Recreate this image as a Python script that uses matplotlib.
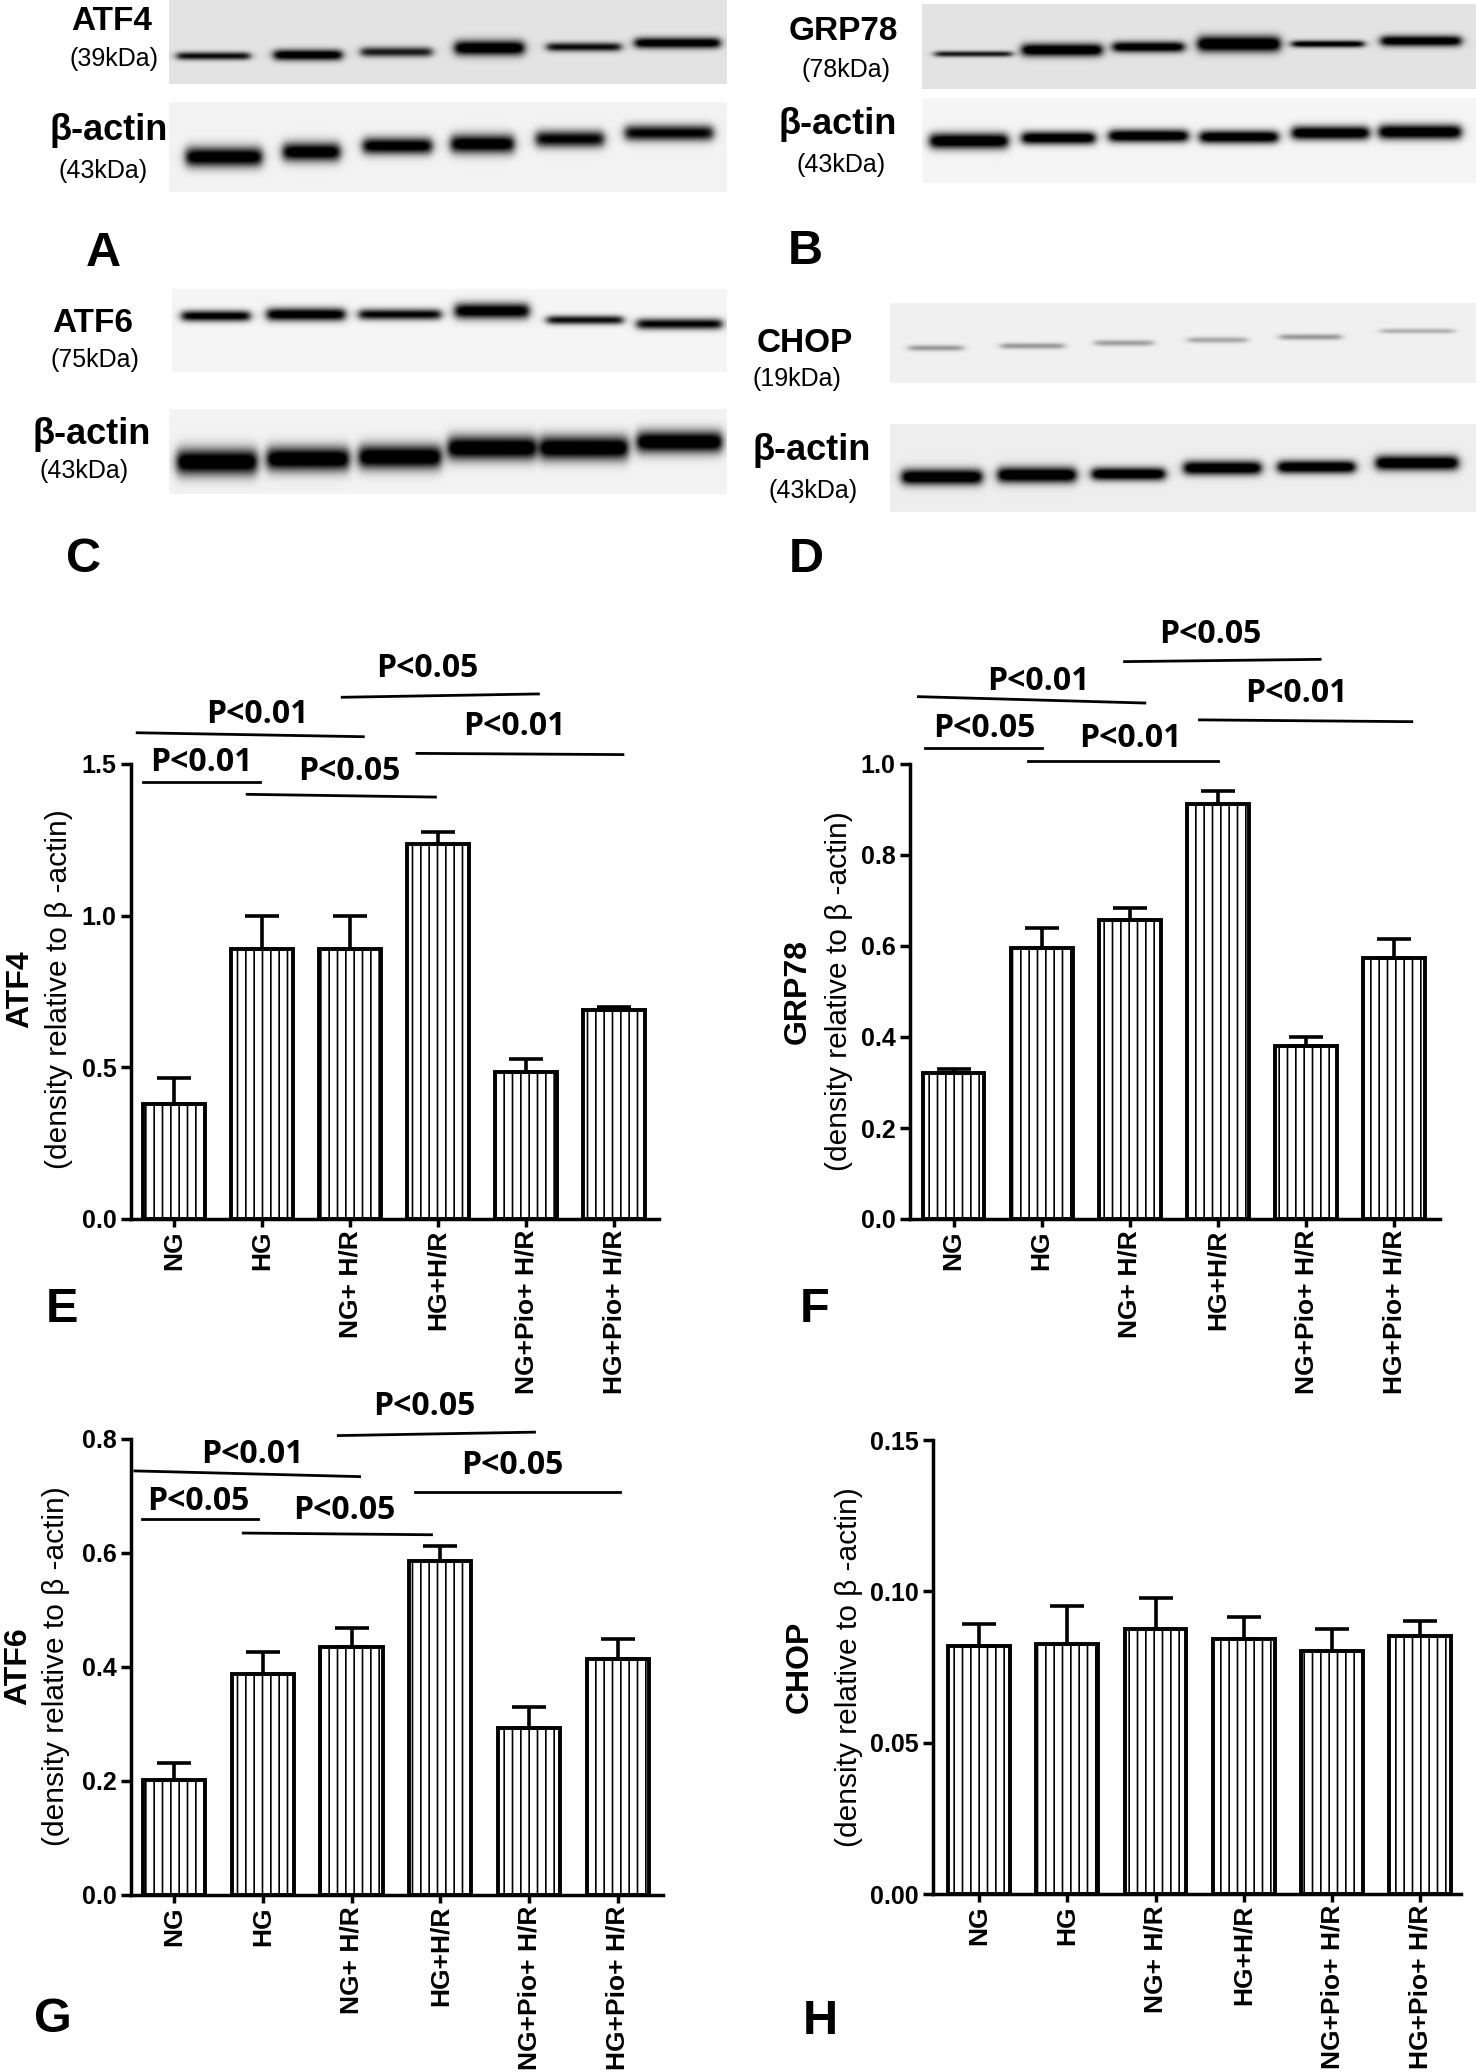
import numpy as np
import matplotlib
matplotlib.use("Agg")
import matplotlib.pyplot as plt
from matplotlib.ticker import FormatStrFormatter

plt.rcParams['font.family'] = ['Liberation Sans', 'DejaVu Sans']
plt.rcParams['hatch.linewidth'] = 1.2

# ---- quantification data ----
groups = ["NG", "HG", "NG+ H/R", "HG+H/R", "NG+Pio+ H/R", "HG+Pio+ H/R"]

atf4_mean = [0.38, 0.89, 0.89, 1.235, 0.485, 0.69]
atf4_err = [0.085, 0.11, 0.11, 0.04, 0.043, 0.008]

grp78_mean = [0.321, 0.595, 0.658, 0.913, 0.381, 0.574]
grp78_err = [0.009, 0.045, 0.025, 0.027, 0.019, 0.041]

atf6_mean = [0.2016, 0.388, 0.435, 0.586, 0.293, 0.414]
atf6_err = [0.030, 0.038, 0.033, 0.027, 0.036, 0.035]

chop_mean = [0.0818, 0.0827, 0.0877, 0.0843, 0.0804, 0.0854]
chop_err = [0.0074, 0.0126, 0.0100, 0.0072, 0.0073, 0.0048]

# significance lines: (x start, x end, y start, y end, label, label x, label y)
atf4_sig = [(-0.35, 0.98, 1.441, 1.441, "P<0.01", 0.31, 1.505),
            (0.83, 2.97, 1.400, 1.391, "P<0.05", 1.99, 1.474),
            (-0.42, 2.15, 1.603, 1.590, "P<0.01", 0.94, 1.662),
            (1.91, 4.14, 1.720, 1.731, "P<0.05", 2.875, 1.815),
            (2.76, 5.10, 1.535, 1.531, "P<0.01", 3.87, 1.624)]
grp78_sig = [(-0.32, 1.00, 1.035, 1.035, "P<0.05", 0.35, 1.078),
             (0.84, 3.00, 1.007, 1.007, "P<0.01", 2.00, 1.057),
             (-0.40, 2.17, 1.148, 1.134, "P<0.01", 0.96, 1.182),
             (1.94, 4.16, 1.225, 1.230, "P<0.05", 2.91, 1.284),
             (2.79, 5.20, 1.097, 1.093, "P<0.01", 3.89, 1.155)]
atf6_sig = [(-0.36, 0.95, 0.660, 0.660, "P<0.05", 0.27, 0.691),
            (0.78, 2.90, 0.635, 0.632, "P<0.05", 1.92, 0.675),
            (-0.44, 2.09, 0.744, 0.734, "P<0.01", 0.88, 0.773),
            (1.85, 4.06, 0.806, 0.812, "P<0.05", 2.82, 0.857),
            (2.71, 5.02, 0.707, 0.707, "P<0.05", 3.81, 0.753)]

# ---- western blot bands: lane extents, band row, thickness, darkness ----
atf4_lanes = [(177, 250), (274, 342), (361, 432), (455, 524), (547, 621), (635, 720)]
atf4_y = [56, 55, 52, 48, 47, 43]
atf4_h = [8, 11, 10, 15, 9, 11]
atf4_k = [0.75, 0.9, 0.7, 0.95, 0.75, 0.9]

actin_a_lanes = [(186, 262), (283, 340), (363, 432), (451, 514), (536, 604), (625, 713)]
actin_a_y = [157, 152, 146, 144, 139, 133]
actin_a_h = [20, 19, 17, 19, 17, 16]
actin_a_k = [0.95, 0.95, 0.92, 0.95, 0.85, 0.85]

atf6_lanes = [(182, 250), (267, 345), (359, 441), (455, 529), (547, 623), (637, 722)]
atf6_y = [316, 314.5, 314.5, 311, 320, 324]
atf6_h = [11, 13, 11, 16, 9, 11]
atf6_k = [0.9, 0.95, 0.85, 0.95, 0.8, 0.85]

actin_c_lanes = [(177, 257), (267, 349), (359, 441), (448, 536), (540, 628), (637, 722)]
actin_c_y = [462, 459, 457, 448, 448, 442]
actin_c_h = [26, 24, 24, 24, 24, 22]
actin_c_k = [1, 1, 1, 1, 1, 1]

grp78_lanes = [(935, 1012), (1022, 1102), (1113, 1184), (1198, 1280), (1292, 1364), (1381, 1461)]
grp78_y = [54, 50, 47, 44, 44, 41]
grp78_h = [6, 13, 11, 16, 7, 11]
grp78_k = [0.7, 0.95, 0.9, 1.0, 0.85, 0.9]

actin_b_lanes = [(930, 1008), (1022, 1095), (1109, 1188), (1200, 1278), (1292, 1369), (1379, 1461)]
actin_b_y = [141, 138, 136, 137, 133, 132]
actin_b_h = [16, 13, 13, 13, 14, 15]
actin_b_k = [1, 1, 1, 1, 1, 1]

chop_lanes = [(909, 963), (1001, 1064), (1095, 1153), (1188, 1247), (1280, 1341), (1381, 1454)]
chop_y = [348, 346, 343, 340, 337, 331]
chop_h = [6, 6, 6, 6, 6, 5]
chop_k = [0.3, 0.3, 0.28, 0.25, 0.3, 0.22]

actin_d_lanes = [(902, 982), (998, 1076), (1092, 1165), (1184, 1261), (1278, 1355), (1376, 1458)]
actin_d_y = [477, 475, 474, 468, 467, 463]
actin_d_h = [16, 16, 13, 14, 13, 15]
actin_d_k = [1, 1, 1, 1, 1, 1]

W, H = 1476, 2072
fig = plt.figure(figsize=(W / 100, H / 100), dpi=100)

# full-figure pixel canvas for blots and free text
bg = fig.add_axes([0, 0, 1, 1], zorder=0)
bg.set_xlim(0, W)
bg.set_ylim(H, 0)
bg.axis('off')


def draw_blot(box, lanes, ys, hs, ks, shade):
    x0, x1, y0, y1 = box
    X, Y = np.meshgrid(np.arange(x0, x1) + 0.5, np.arange(y0, y1) + 0.5)
    img = np.full(X.shape, shade)
    for (l, r), yc, h, k in zip(lanes, ys, hs, ks):
        across = 0.5 * (np.tanh((X - l) / 5.0) - np.tanh((X - r) / 5.0))
        down = np.exp(-((Y - yc) / (h / 2.0)) ** 2)
        img -= 1.15 * k * across * down
    img = np.clip(img, 0, 1)
    bg.imshow(img, cmap='gray', vmin=0, vmax=1, extent=(x0, x1, y1, y0),
              interpolation='bilinear', aspect='auto')


draw_blot((169, 727, 0, 84), atf4_lanes, atf4_y, atf4_h, atf4_k, 0.89)
draw_blot((169, 727, 102, 192), actin_a_lanes, actin_a_y, actin_a_h, actin_a_k, 0.95)
draw_blot((172, 727, 289, 372), atf6_lanes, atf6_y, atf6_h, atf6_k, 0.96)
draw_blot((169, 727, 409, 494), actin_c_lanes, actin_c_y, actin_c_h, actin_c_k, 0.95)
draw_blot((922, 1476, 4, 89), grp78_lanes, grp78_y, grp78_h, grp78_k, 0.89)
draw_blot((922, 1476, 98, 183), actin_b_lanes, actin_b_y, actin_b_h, actin_b_k, 0.96)
draw_blot((890, 1476, 303, 383), chop_lanes, chop_y, chop_h, chop_k, 0.94)
draw_blot((890, 1476, 424, 512), actin_d_lanes, actin_d_y, actin_d_h, actin_d_k, 0.93)

# blot labels
blot_names = [("ATF4", 112, 22, 24), ("GRP78", 843, 31, 24), ("ATF6", 93, 323, 24), ("CHOP", 805, 343, 24),
              ("β-actin", 109, 131, 26), ("β-actin", 838, 125, 26), ("β-actin", 92, 434, 26),
              ("β-actin", 812, 451, 26)]
blot_sizes = [("(39kDa)", 114, 59), ("(78kDa)", 846, 70), ("(75kDa)", 95, 360), ("(19kDa)", 797, 379),
              ("(43kDa)", 103, 171), ("(43kDa)", 841, 165), ("(43kDa)", 84, 471), ("(43kDa)", 813, 491)]
for txt, x, y, fs in blot_names:
    bg.text(x, y, txt, ha='center', va='center', fontsize=fs, fontweight='bold')
for txt, x, y in blot_sizes:
    bg.text(x, y, txt, ha='center', va='center', fontsize=18)

# panel letters
letters = [("A", 103, 254), ("B", 805, 252), ("C", 84, 560), ("D", 806, 560),
           ("E", 62, 1310), ("F", 815, 1310), ("G", 53, 2020), ("H", 820, 2022)]
for txt, x, y in letters:
    bg.text(x, y, txt, ha='center', va='center', fontsize=35, fontweight='bold')

# y-axis titles
ytitles = [("ATF4", 20, 989, 59), ("GRP78", 798, 991, 839), ("ATF6", 18, 1666, 56), ("CHOP", 800, 1667, 849)]
for name, x, y, x2 in ytitles:
    bg.text(x, y, name, rotation=90, ha='center', va='center', fontsize=23, fontweight='bold')
    bg.text(x2, y, "(density relative to β -actin)", rotation=90, ha='center', va='center',
            fontsize=21.5)


def px_rect(left, right, top, bottom):
    return [left / W, 1 - bottom / H, (right - left) / W, (bottom - top) / H]


def bar_panel(rect, xlim, ylim, yticks, fmt, means, errs, sig):
    ax = fig.add_axes(rect, zorder=1)
    ax.patch.set_visible(False)
    x = np.arange(len(groups))
    ax.bar(x, means, 0.70, color='white', edgecolor='black', linewidth=2.8,
           hatch='||', zorder=2)
    ax.errorbar(x, means, yerr=[np.zeros(len(errs)), errs], fmt='none', ecolor='black',
                elinewidth=2.6, capsize=12, capthick=2.6, zorder=3)
    ax.set_xlim(*xlim)
    ax.set_ylim(*ylim)
    ax.set_yticks(yticks)
    ax.yaxis.set_major_formatter(FormatStrFormatter(fmt))
    ax.set_xticks(x)
    ax.set_xticklabels(groups, rotation=90, va='top', ha='center')
    for s in ['top', 'right']:
        ax.spines[s].set_visible(False)
    for s in ['left', 'bottom']:
        ax.spines[s].set_linewidth(2.5)
    ax.tick_params(axis='y', direction='out', length=7.5, width=2.5, labelsize=18, pad=3)
    ax.tick_params(axis='x', direction='out', length=6, width=2.5, labelsize=19, pad=2)
    for lbl in ax.get_xticklabels() + ax.get_yticklabels():
        lbl.set_fontweight('bold')
    for x0, x1, y0, y1, lab, tx, ty in sig:
        ax.plot([x0, x1], [y0, y1], color='black', lw=2.0, clip_on=False, zorder=4)
        ax.text(tx, ty, lab, ha='center', va='center', fontsize=23, fontweight='bold',
                family=['Open Sans', 'DejaVu Sans'], clip_on=False)
    return ax


bar_panel(px_rect(131, 659, 764, 1219), (-0.49, 5.51), (0, 1.5), [0, 0.5, 1.0, 1.5], '%.1f',
          atf4_mean, atf4_err, atf4_sig)
bar_panel(px_rect(910, 1440, 764, 1219), (-0.495, 5.52), (0, 1.0), [0, 0.2, 0.4, 0.6, 0.8, 1.0], '%.1f',
          grp78_mean, grp78_err, grp78_sig)
bar_panel(px_rect(131, 663, 1439, 1895), (-0.484, 5.507), (0, 0.8), [0, 0.2, 0.4, 0.6, 0.8], '%.1f',
          atf6_mean, atf6_err, atf6_sig)
bar_panel(px_rect(933, 1461, 1440, 1894), (-0.52, 5.46), (0, 0.15), [0, 0.05, 0.10, 0.15], '%.2f',
          chop_mean, chop_err, [])

fig.savefig("out.png", dpi=100)
